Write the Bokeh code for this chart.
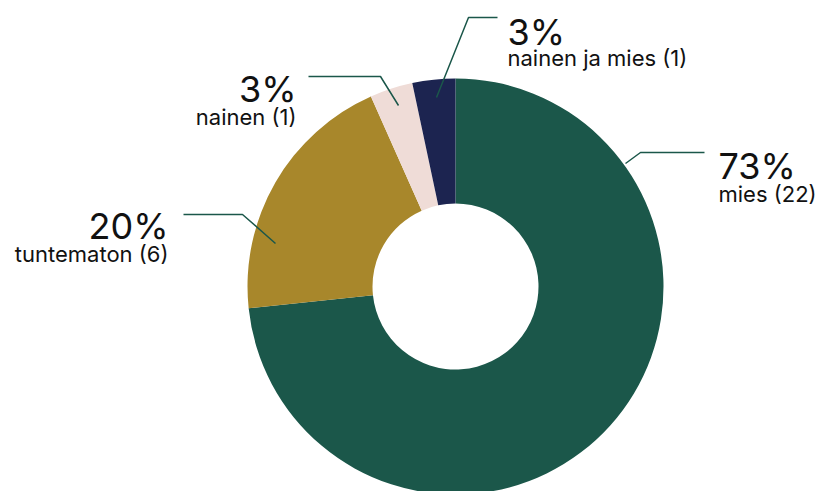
import numpy as np
from bokeh.plotting import figure
from bokeh.models import Range1d, ColumnDataSource
from bokeh.core.properties import value
from bokeh.embed import file_html
from bokeh.resources import INLINE

# ---- data ----
categories = ["mies", "tuntematon", "nainen", "nainen ja mies"]
counts = [22, 6, 1, 1]
colors = ["#1b574a", "#a8872b", "#efdcd7", "#1c2450"]

W, H = 817, 491
FONT = "Inter"

p = figure(width=W, height=H, output_backend="svg", toolbar_location=None,
           x_range=Range1d(0, W), y_range=Range1d(0, H), min_border=0)
p.axis.visible = False
p.grid.visible = False
p.outline_line_color = None
p.background_fill_color = "white"
p.border_fill_color = "white"

def Y(py):
    return H - py

cx, cy = 455, Y(286)
r_out, r_in = 208, 83

total = sum(counts)
frac = np.array(counts) / total
cum = np.concatenate([[0], np.cumsum(frac)])
start = np.pi / 2 - 2 * np.pi * cum[:-1]
end = np.pi / 2 - 2 * np.pi * cum[1:]

src = ColumnDataSource(dict(start=start, end=end, color=colors))
p.annular_wedge(x=cx, y=cy, inner_radius=r_in, outer_radius=r_out,
                start_angle="start", end_angle="end", direction="clock",
                fill_color="color", line_color=None, source=src)

pct = [f"{round(100 * f)}%" for f in frac]
sub = [f"{c} ({n})" for c, n in zip(categories, counts)]

SHIFT = 12
# label layout: (leader points in pixels, text x, pct baseline, sub baseline, align)
layout = {
    "mies": ([(625, 163), (640, 152), (704, 152)], 718, 177, 205, "left"),
    "tuntematon": ([(275, 243), (242, 214), (183, 214)], 168, 237, 265, "right"),
    "nainen": ([(398, 105), (380, 76), (308, 76)], 296, 100, 128, "right"),
    "nainen ja mies": ([(436, 97), (468, 17), (497, 17)], 507, 43, 69, "left"),
}

for i, c in enumerate(categories):
    pts, tx, yb1, yb2, al = layout[c]
    p.line([q[0] for q in pts], [Y(q[1]) for q in pts],
           line_color="#1b574a", line_width=1.5)
    p.text(x=[tx], y=[Y(yb1 - SHIFT)], text=[pct[i]], text_font=value(FONT),
           text_font_size="36px", text_align=al, text_baseline="alphabetic",
           text_color="#111111")
    p.text(x=[tx], y=[Y(yb2 - SHIFT)], text=[sub[i]], text_font=value(FONT),
           text_font_size="22px", text_align=al, text_baseline="alphabetic",
           text_color="#111111")

open("out.html", "w").write(file_html(p, INLINE))
